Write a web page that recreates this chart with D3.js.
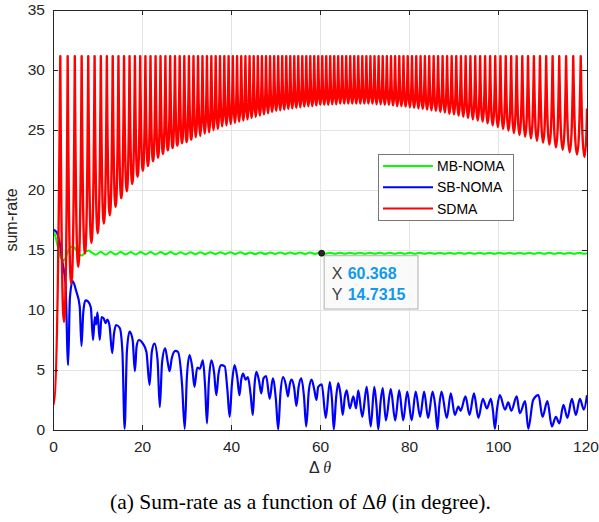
<!DOCTYPE html>
<html><head><meta charset="utf-8">
<script src="https://cdn.jsdelivr.net/npm/d3@7"></script>
<style>body{margin:0;background:#fff}svg{display:block}</style>
</head><body>
<svg id="c" width="599" height="522"></svg>
<script>
// ---------------- data ----------------
const xTicks = [0, 20, 40, 60, 80, 100, 120];
const yTicks = [0, 5, 10, 15, 20, 25, 30, 35];
const seriesNames = ["MB-NOMA", "SB-NOMA", "SDMA"];
const seriesColors = ["#00ff00", "#0000ff", "#ff0000"];

// MB-NOMA  [Δθ, sum-rate]
const mbNoma = [[0,16.6],[0.5,16.2],[1.0,15.4],[1.5,14.6],[2.0,14.2],[2.5,14.15],[3.0,14.5],[3.5,15.0],[4.0,15.25],[4.5,15.3],[5.0,15.1],[5.5,14.8],[6.0,14.6],[6.5,14.55],[7.0,14.7],[7.5,14.9],[8.0,14.95],[8.5,14.85],
[9.6,14.60],[10.72,14.86],[11.84,14.61],[12.96,14.85],[14.08,14.62],[15.2,14.85],[16.32,14.62],[17.44,14.84],[18.56,14.63],[19.68,14.84],[20.8,14.63],[21.92,14.83],[23.04,14.63],[24.16,14.83],[25.28,14.64],[26.4,14.83],[27.52,14.64],[28.64,14.82],[29.76,14.64],[30.88,14.82],[32.0,14.65],[33.12,14.82],[34.24,14.65],[35.36,14.81],[36.48,14.65],[37.6,14.81],[38.72,14.65],[39.84,14.81],[40.96,14.66],[42.08,14.81],[43.2,14.66],[44.32,14.80],[45.44,14.66],[46.56,14.80],[47.68,14.66],[48.8,14.80],[49.92,14.67],[51.04,14.80],[52.16,14.67],[53.28,14.79],[54.4,14.67],[55.52,14.79],[56.64,14.67],[57.76,14.79],[58.88,14.67],[60.0,14.79],[61.12,14.68],[62.24,14.78],[63.36,14.68],[64.48,14.78],[65.6,14.68],[66.72,14.78],[67.84,14.68],[68.96,14.78],[70.08,14.68],[71.2,14.78],[72.32,14.68],[73.44,14.78],[74.56,14.68],[75.68,14.78],[76.8,14.68],[77.92,14.78],[79.04,14.68],[80.16,14.78],[81.28,14.68],[82.4,14.78],[83.52,14.68],[84.64,14.78],[85.76,14.68],[86.88,14.78],[88.0,14.68],[89.12,14.78],[90.24,14.68],[91.36,14.78],[92.48,14.68],[93.6,14.78],[94.72,14.68],[95.84,14.78],[96.96,14.68],[98.08,14.78],[99.2,14.68],[100.32,14.78],[101.44,14.68],[102.56,14.78],[103.68,14.68],[104.8,14.78],[105.92,14.68],[107.04,14.78],[108.16,14.68],[109.28,14.78],[110.4,14.68],[111.52,14.78],[112.64,14.68],[113.76,14.78],[114.88,14.68],[116.0,14.78],[117.12,14.68],[118.24,14.78],[119.36,14.68],[120,14.73]];

// SB-NOMA  [Δθ, sum-rate]
const sbNoma = [[0,16.7],[0.8,16.5],[1.5,15.6],[2.2,13.8],[2.8,12.3],[3.4,5.4],[3.8,11.0],[4.4,12.4],[5.2,11.6],[6.0,10.3],[6.4,7.0],[6.8,9.8],[7.3,10.8],[7.9,10.7],[8.5,10.2],[9.0,7.5],[9.4,9.4],[9.7,8.8],[10.0,9.8],[10.5,7.5],[10.9,9.4],[11.4,9.3],[11.8,8.9],[12.2,9.2],[12.7,8.7],[13.3,6.4],[13.7,8.0],[14.2,8.75],[15.0,8.5],[15.6,6.5],[16.1,0.1],[16.6,6.5],[17.2,8.2],[17.9,7.5],[18.4,4.9],[18.8,7.0],[19.3,7.5],[20.2,7.2],[21.0,6.5],[21.7,3.75],[22.2,6.5],[22.8,7.2],[23.5,5.8],[24.0,1.9],[24.5,5.6],[25.2,6.8],[25.8,5.6],[26.2,4.9],[26.7,6.0],[27.5,6.6],[28.1,6.5],[29.0,3.8],[29.6,0.1],[30.1,4.5],[30.7,6.25],[31.3,5.2],[31.8,3.6],[32.4,5.2],[33.0,5.1],[33.7,5.8],[34.2,3.5],[34.6,0.55],[35.0,3.9],[35.6,5.8],[36.2,4.8],[36.7,2.9],[37.2,4.7],[37.8,5.4],[38.6,5.3],[39.2,3.3],[39.7,1.1],[40.2,3.8],[40.8,5.4],[41.4,4.4],[41.9,2.9],[42.3,4.2],[42.7,4.7],[43.3,4.2],[43.8,4.4],[44.4,3.0],[44.9,1.25],[45.3,3.8],[45.7,4.85],[46.3,4.1],[46.8,3.05],[47.3,4.3],[47.9,4.5],[48.7,2.6],[49.4,4.3],[50.1,2.5],[50.6,0.05],[51.1,3.0],[51.7,4.4],[52.3,3.8],[52.8,2.8],[53.2,3.8],[53.6,4.2],[54.2,3.5],[54.7,2.0],[55.2,3.6],[55.8,4.3],[56.4,2.8],[56.9,0.3],[57.5,3.3],[58.1,4.2],[58.7,3.4],[59.2,2.5],[59.6,3.6],[60.4,3.8],[61.3,1.0],[62.2,4.0],[62.7,2.5],[63.1,0.05],[63.6,2.6],[64.1,3.9],[64.6,3.0],[65.1,1.25],[65.6,2.8],[66.0,3.3],[66.7,1.8],[67.5,2.8],[68.1,1.8],[68.6,3.3],[69.5,1.1],[70.5,3.6],[71.4,0.3],[72.2,3.6],[72.7,2.0],[73.1,0.05],[73.6,2.3],[74.1,3.5],[74.8,0.8],[75.9,3.4],[76.9,0.8],[77.8,3.3],[78.7,0.8],[79.6,3.2],[80.6,0.8],[81.5,3.2],[82.5,1.1],[83.4,3.2],[84.3,1.0],[85.3,3.2],[85.9,2.0],[86.4,0.05],[86.8,2.0],[87.3,3.2],[88.5,1.0],[89.4,3.05],[90.3,1.25],[91.1,1.95],[91.6,1.6],[92.7,2.8],[93.6,1.25],[94.6,3.05],[95.6,1.0],[96.6,2.6],[97.5,1.8],[98.4,2.6],[98.9,1.5],[99.3,0.1],[99.8,1.8],[100.4,2.9],[101.6,1.7],[102.3,2.3],[103.0,1.6],[104.2,2.8],[104.9,1.4],[106.1,2.4],[106.8,0.1],[107.9,2.5],[109.1,2.9],[110.0,1.1],[111.1,2.4],[112.1,0.3],[113.0,1.1],[113.8,0.55],[114.7,2.1],[115.6,1.0],[116.6,2.6],[117.5,1.25],[118.4,2.6],[119.3,1.7],[120,2.9]];

// SDMA: positions of the peaks, the common peak value, and the value of each valley between peaks
const sdmaTop = 31.15;
const sdmaPeakX = [1.64,3.30,4.90,6.44,7.92,9.35,10.75,12.10,13.42,14.71,15.97,17.20,18.41,19.60,20.77,21.91,23.05,24.16,25.26,26.34,27.41,28.47,29.51,30.55,31.57,32.59,33.59,34.59,35.58,36.56,37.53,38.50,39.46,40.41,41.36,42.30,43.24,44.17,45.10,46.03,46.95,47.87,48.78,49.70,50.61,51.51,52.42,53.32,54.22,55.12,56.02,56.92,57.82,58.71,59.61,60.51,61.40,62.30,63.20,64.09,64.99,65.89,66.80,67.70,68.60,69.51,70.42,71.33,72.25,73.17,74.09,75.02,75.95,76.88,77.82,78.76,79.71,80.67,81.63,82.60,83.57,84.55,85.54,86.54,87.55,88.56,89.59,90.62,91.67,92.73,93.80,94.89,95.99,97.10,98.23,99.38,100.55,101.74,102.96,104.19,105.46,106.75,108.07,109.43,110.83,112.27,113.76,115.31,116.91,118.59];
const sdmaValleyY = [9.0,12.2,13.6,14.7,15.6,16.4,17.2,17.9,18.6,19.3,19.9,20.5,21.1,21.6,22.0,22.4,22.7,23.0,23.3,23.5,23.7,23.9,24.0,24.2,24.4,24.5,24.7,24.8,25.0,25.1,25.3,25.4,25.5,25.6,25.7,25.8,25.9,26.0,26.1,26.2,26.3,26.4,26.5,26.6,26.65,26.7,26.75,26.8,26.85,26.9,26.95,27.0,27.0,27.05,27.1,27.1,27.1,27.15,27.15,27.2,27.2,27.2,27.2,27.2,27.2,27.2,27.2,27.2,27.15,27.15,27.1,27.1,27.05,27.0,27.0,26.95,26.9,26.85,26.8,26.75,26.7,26.65,26.6,26.5,26.45,26.35,26.3,26.2,26.1,26.0,25.9,25.8,25.7,25.55,25.4,25.25,25.1,24.95,24.75,24.6,24.45,24.3,24.1,23.95,23.8,23.55,23.35,23.15,22.95];
const sdmaStart = [0, 2.0];
const sdmaLastValley = [119.45, 22.75];
const sdmaEnd = [120, 26.8];

// data tip
const tipX = 60.368, tipY = 14.7315;
const tipLabels = ["X", "Y"];
const tipValues = ["60.368", "14.7315"];

// ---------------- drawing ----------------
const M = {l: 53, r: 587, t: 10, b: 430};
const x = d3.scaleLinear().domain([0, 120]).range([M.l, M.r]);
const y = d3.scaleLinear().domain([0, 35]).range([M.b, M.t]);
const svg = d3.select("#c");
const FONT = "'Liberation Sans', Arial, Helvetica, sans-serif";
const AX = "#262626";

svg.append("rect").attr("x", M.l).attr("y", M.t).attr("width", M.r - M.l).attr("height", M.b - M.t).attr("fill", "#fff");

// grid
const grid = svg.append("g").attr("stroke", "#e3e3e3").attr("stroke-width", 1);
grid.selectAll(".gx").data(xTicks.slice(1, -1)).join("line")
  .attr("x1", d => Math.round(x(d)) + 0.5).attr("x2", d => Math.round(x(d)) + 0.5)
  .attr("y1", M.t).attr("y2", M.b);
grid.selectAll(".gy").data(yTicks.slice(1, -1)).join("line")
  .attr("y1", d => Math.round(y(d)) + 0.5).attr("y2", d => Math.round(y(d)) + 0.5)
  .attr("x1", M.l).attr("x2", M.r);

// clip
svg.append("clipPath").attr("id", "plotclip").append("rect")
  .attr("x", M.l).attr("y", M.t - 2).attr("width", M.r - M.l).attr("height", M.b - M.t + 2);
const plot = svg.append("g").attr("clip-path", "url(#plotclip)");

const line = d3.line().x(d => x(d[0])).y(d => y(d[1]));

plot.append("path").datum(mbNoma)
  .attr("d", line.curve(d3.curveMonotoneX))
  .attr("fill", "none").attr("stroke", seriesColors[0]).attr("stroke-width", 2);

plot.append("path").datum(sbNoma)
  .attr("d", line.curve(d3.curveMonotoneX))
  .attr("fill", "none").attr("stroke", seriesColors[1]).attr("stroke-width", 2.2).attr("stroke-linejoin", "round");

function fall(p, xp, T, xv, yv) { const h = xv - xp; p.bezierCurveTo(xp + 0.3 * h, T + 0.75 * (yv - T), xp + 0.6 * h, yv, xv, yv); }
function rise(p, xv, yv, xp, T) { const h = xp - xv; p.bezierCurveTo(xv + 0.4 * h, yv, xv + 0.7 * h, T + 0.75 * (yv - T), xp, T); }
function sdmaPath() {
  const p = d3.path();
  const T = y(sdmaTop);
  const pk = sdmaPeakX.map(v => x(v));
  const x0 = x(sdmaStart[0]), y0 = y(sdmaStart[1]);
  p.moveTo(x0, y0);
  rise(p, x0, y0, pk[0], T);
  for (let i = 0; i < pk.length; i++) {
    let xv, yv;
    if (i < pk.length - 1) { xv = (pk[i] + pk[i + 1]) / 2; yv = y(sdmaValleyY[i]); }
    else { xv = x(sdmaLastValley[0]); yv = y(sdmaLastValley[1]); }
    fall(p, pk[i], T, xv, yv);
    if (i < pk.length - 1) rise(p, xv, yv, pk[i + 1], T);
  }
  const xe = x(sdmaEnd[0]), ye = y(sdmaEnd[1]);
  const xv = x(sdmaLastValley[0]), yv = y(sdmaLastValley[1]);
  p.bezierCurveTo(xv + 0.5 * (xe - xv), yv, xe - 0.15 * (xe - xv), yv + 0.5 * (ye - yv), xe, ye);
  return p.toString();
}
plot.append("path").attr("d", sdmaPath())
  .attr("fill", "none").attr("stroke", seriesColors[2]).attr("stroke-width", 2.4).attr("stroke-linejoin", "round");

// axes
function styleAxis(g) {
  g.select(".domain").attr("stroke", AX);
  g.selectAll(".tick line").attr("stroke", AX);
  g.selectAll(".tick text").attr("fill", AX).style("font-family", FONT).style("font-size", "15.5px");
}
svg.append("g").attr("transform", `translate(0,${M.b})`)
  .call(d3.axisBottom(x).tickValues(xTicks).tickSizeInner(-5).tickSizeOuter(0).tickPadding(11))
  .call(styleAxis)
  .call(g => g.selectAll(".tick text").filter(d => d === xTicks[xTicks.length - 1]).attr("dx", "-1.5"));
svg.append("g").attr("transform", `translate(0,${M.t})`)
  .call(d3.axisTop(x).tickValues(xTicks).tickSizeInner(-5).tickSizeOuter(0).tickFormat(""))
  .call(styleAxis);
svg.append("g").attr("transform", `translate(${M.l},0)`)
  .call(d3.axisLeft(y).tickValues(yTicks).tickSizeInner(-5).tickSizeOuter(0).tickPadding(8))
  .call(styleAxis);
svg.append("g").attr("transform", `translate(${M.r},0)`)
  .call(d3.axisRight(y).tickValues(yTicks).tickSizeInner(-5).tickSizeOuter(0).tickFormat(""))
  .call(styleAxis);

// axis labels
const xl = svg.append("text").attr("x", (M.l + M.r) / 2).attr("y", 473).attr("text-anchor", "middle")
  .style("font-family", FONT).style("font-size", "16px").attr("fill", AX);
xl.append("tspan").text("Δ ");
xl.append("tspan").style("font-style", "italic").style("font-family", "'Liberation Serif', 'Times New Roman', serif").text("θ");
svg.append("text").attr("transform", `translate(17,${(M.t + M.b) / 2}) rotate(-90)`).attr("text-anchor", "middle")
  .style("font-family", FONT).style("font-size", "16px").attr("fill", AX).text("sum-rate");

// legend
const lg = svg.append("g");
lg.append("rect").attr("x", 378.5).attr("y", 154.5).attr("width", 135).attr("height", 66)
  .attr("fill", "#fff").attr("stroke", "#777").attr("stroke-width", 1);
seriesNames.forEach((n, i) => {
  const yy = 166 + i * 21.3;
  lg.append("line").attr("x1", 383).attr("x2", 433).attr("y1", yy).attr("y2", yy)
    .attr("stroke", seriesColors[i]).attr("stroke-width", 2);
  lg.append("text").attr("x", 437).attr("y", yy + 5).style("font-family", FONT).style("font-size", "14px")
    .attr("fill", "#000").text(n);
});

// data tip
const tx = x(tipX), ty = y(tipY);
svg.append("rect").attr("x", tx + 2.5).attr("y", ty + 2.5).attr("width", 418 - tx - 2.5).attr("height", 309 - ty - 2.5)
  .attr("fill", "#fafafa").attr("fill-opacity", 0.92).attr("stroke", "#b0b0b0").attr("stroke-width", 1);
svg.append("circle").attr("cx", tx).attr("cy", ty).attr("r", 3).attr("fill", "#262626").attr("stroke", "#000").attr("stroke-width", 0.8);
tipLabels.forEach((l, i) => {
  const t = svg.append("text").attr("x", tx + 10).attr("y", 279 + i * 20.5).style("font-family", FONT).style("font-size", "16px");
  t.append("tspan").attr("fill", "#404040").text(l);
  t.append("tspan").attr("x", tx + 26).attr("fill", "#1199ee").style("font-weight", "bold").text(tipValues[i]);
});

// caption
const cap = svg.append("text").attr("x", 300.5).attr("y", 509).attr("text-anchor", "middle")
  .style("font-family", "'Liberation Serif', 'Times New Roman', serif").style("font-size", "21.5px").attr("fill", "#000");
cap.append("tspan").text("(a) Sum-rate as a function of Δ");
cap.append("tspan").style("font-style", "italic").text("θ");
cap.append("tspan").text(" (in degree).");
</script>
</body></html>
